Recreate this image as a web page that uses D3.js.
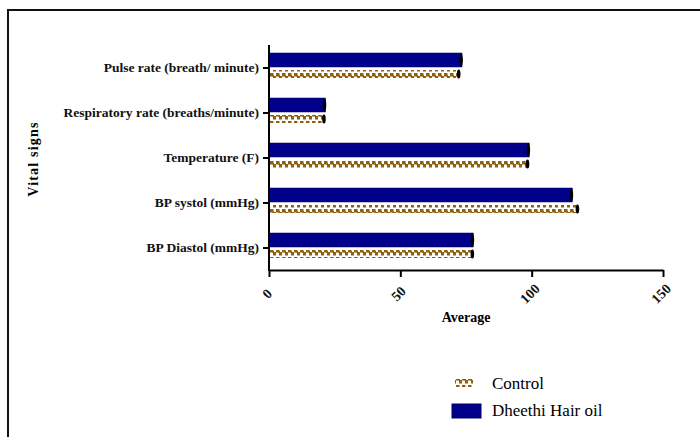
<!DOCTYPE html>
<html><head><meta charset="utf-8">
<script src="https://cdn.jsdelivr.net/npm/d3@7"></script>
<style>body{margin:0;background:#fff}svg{display:block}
svg text{font-family:"Liberation Serif","Times New Roman",Times,"DejaVu Serif",serif;}
</style>
</head><body>
<svg id="c" width="700" height="437"></svg>
<script>
const categories = ["Pulse rate (breath/ minute)", "Respiratory rate (breaths/minute)", "Temperature (F)", "BP systol (mmHg)", "BP Diastol (mmHg)"];
const dheethi = [73.5, 21.5, 99.1, 115.5, 77.8];
const control = [72.6, 21.3, 98.8, 117.8, 77.8];
const xTicks = [0, 50, 100, 150];
const seriesNames = ["Control", "Dheethi Hair oil"];

const svg = d3.select("#c");
const navy = "#00008b";
const brown = "#8f600f";

const defs = svg.append("defs");
const pat = defs.append("pattern").attr("id","zig").attr("patternUnits","userSpaceOnUse")
  .attr("width",6).attr("height",8).attr("x",0).attr("y",0);
pat.append("rect").attr("width",6).attr("height",8).attr("fill","#fff");
pat.append("rect").attr("x",0).attr("y",1).attr("width",3.5).attr("height",3.5).attr("fill",brown);
pat.append("rect").attr("x",3).attr("y",4).attr("width",3.5).attr("height",3.5).attr("fill",brown);
pat.append("rect").attr("x",2.5).attr("y",3).attr("width",1.5).attr("height",2).attr("fill",brown);

// frame
svg.append("rect").attr("x",8).attr("y",10).attr("width",720).attr("height",460)
  .attr("fill","none").attr("stroke","#111").attr("stroke-width",2);

const x = d3.scaleLinear().domain([0,150]).range([269,663]);
const y = d3.scaleBand().domain(categories).range([45.5,270.5]);

// bars
const g = svg.append("g");
categories.forEach((c,i)=>{
  const yc = y(c) + y.bandwidth()/2;
  g.append("rect").attr("x",x(0)).attr("y",yc-15).attr("width",x(dheethi[i])-x(0)).attr("height",14)
    .attr("fill",navy).attr("stroke","#000066").attr("stroke-width",0.5);
  g.append("ellipse").attr("cx",x(dheethi[i])-1).attr("cy",yc-8).attr("rx",1.8).attr("ry",6.5).attr("fill","#000");
  g.append("rect").attr("x",x(0)).attr("y",yc+2).attr("width",x(control[i])-x(0)).attr("height",8)
    .attr("fill","url(#zig)");
  g.append("ellipse").attr("cx",x(control[i])-1).attr("cy",yc+6).attr("rx",1.8).attr("ry",4.5).attr("fill","#000");
});

// y axis
const ya = svg.append("g").attr("transform","translate(269,0)")
  .call(d3.axisLeft(y).tickSize(6).tickPadding(4));
ya.attr("font-family",null);
ya.select(".domain").attr("stroke","#000").attr("stroke-width",2).attr("d","M-0,45V271");
ya.selectAll(".tick line").attr("stroke","#000").attr("stroke-width",2);
ya.selectAll("text").attr("font-weight","bold").attr("font-size",13.5).attr("fill","#111");

// x axis
const xa = svg.append("g").attr("transform","translate(0,270)")
  .call(d3.axisBottom(x).tickValues(xTicks).tickSize(7).tickSizeOuter(0));
xa.attr("font-family",null);
xa.select(".domain").attr("stroke","#000").attr("stroke-width",2);
xa.selectAll(".tick line").attr("stroke","#000").attr("stroke-width",2);
xa.selectAll("text").attr("font-weight","bold").attr("font-size",14).attr("fill","#111")
  .attr("text-anchor","middle").attr("dy",0).attr("y",0)
  .attr("transform","translate(1,27) rotate(-45)");

svg.append("text").attr("x",466).attr("y",322).attr("text-anchor","middle")
  .attr("font-weight","bold").attr("font-size",14).text("Average");
svg.append("text").attr("transform","translate(38,159) rotate(-90)").attr("text-anchor","middle")
  .attr("font-weight","bold").attr("font-size",14).attr("letter-spacing",1.2).text("Vital signs");

// legend
const lg = svg.append("g");
lg.append("rect").attr("x",455).attr("y",379).attr("width",18).attr("height",8).attr("fill","url(#zig)");
lg.append("text").attr("x",492).attr("y",389).attr("font-size",17).text(seriesNames[0]);
lg.append("rect").attr("x",452).attr("y",404).attr("width",29).attr("height",14).attr("fill",navy).attr("stroke","#000066");
lg.append("text").attr("x",492).attr("y",416).attr("font-size",17).text(seriesNames[1]);
</script>
</body></html>
